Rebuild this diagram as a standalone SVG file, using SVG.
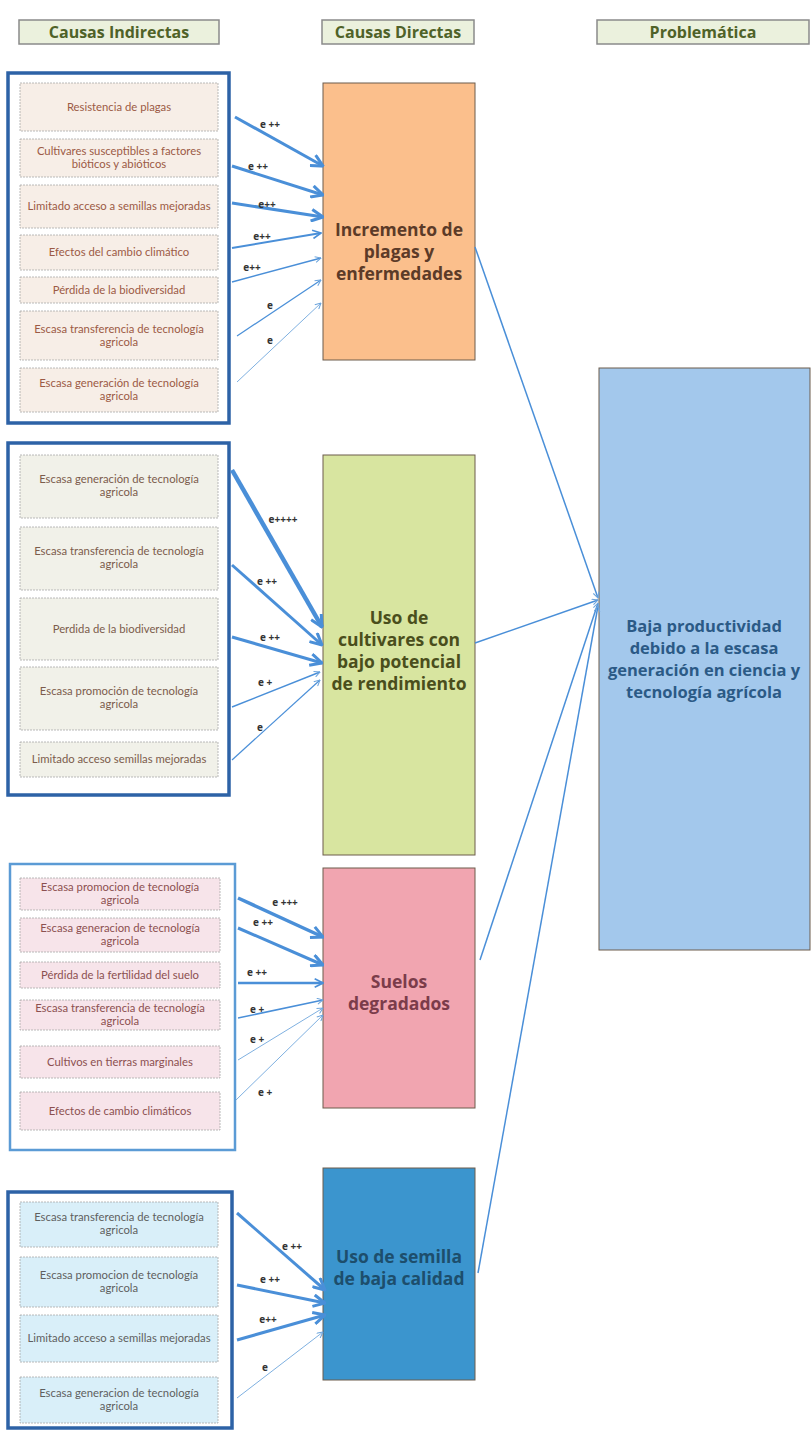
<svg xmlns="http://www.w3.org/2000/svg" width="811" height="1433" viewBox="0 0 811 1433">
<defs>
<marker id="mBig" viewBox="0 0 12 12" refX="11" refY="6" markerWidth="14" markerHeight="14" markerUnits="userSpaceOnUse" orient="auto"><path d="M1,1 L11,6 L1,11" fill="none" stroke="#4a8fd8" stroke-width="2.6"/></marker>
<marker id="mMed" viewBox="0 0 12 12" refX="11" refY="6" markerWidth="10" markerHeight="10" markerUnits="userSpaceOnUse" orient="auto"><path d="M1,1 L11,6 L1,11" fill="none" stroke="#4a8fd8" stroke-width="2"/></marker>
<marker id="mSmall" viewBox="0 0 12 12" refX="11" refY="6" markerWidth="7" markerHeight="7" markerUnits="userSpaceOnUse" orient="auto"><path d="M1,1 L11,6 L1,11" fill="none" stroke="#6ea5dc" stroke-width="1.8"/></marker>
</defs>
<style>
.hdr{fill:#ebf1dd;stroke:#8a8a8a;stroke-width:1.5}
.hdrt{font-family:"Open Sans","Liberation Sans",sans-serif;font-weight:bold;font-size:16px;fill:#4f6228;text-anchor:middle}
.outer{fill:#ffffff;stroke:#2d62a6;stroke-width:3.5}
.outer2{fill:#ffffff;stroke:#5b9bd5;stroke-width:2.5}
.ib{stroke:#a8a8a8;stroke-width:0.8;stroke-dasharray:2 1}
.g1{fill:#f7eee7}.g2{fill:#f1f1e9}.g3{fill:#f7e4ea}.g4{fill:#d9eff9}
.st{font-family:Lato,"Liberation Sans",sans-serif;font-size:11.3px;text-anchor:middle}
.t1{fill:#9c5a45}.t2{fill:#7c5c4c}.t3{fill:#8c5050}.t4{fill:#5f5f5f}
.db{stroke:#6d5c4c;stroke-width:1}
.bt{font-family:"Open Sans","Liberation Sans",sans-serif;font-weight:bold;font-size:17.5px;text-anchor:middle}
.bt2{font-family:"Open Sans","Liberation Sans",sans-serif;font-weight:bold;font-size:16.5px;text-anchor:middle;fill:#2b5a86}
.lbl{font-family:"Open Sans","Liberation Sans",sans-serif;font-weight:bold;font-size:10px;fill:#333333;text-anchor:middle}
.a{fill:none;stroke:#4a8fd8}
.al{fill:none;stroke:#7fb0e0}
</style>
<rect width="811" height="1433" fill="#ffffff"/>

<g id="headers">
<rect class="hdr" x="19" y="20" width="200" height="24"/>
<text class="hdrt" x="119" y="38">Causas Indirectas</text>
<rect class="hdr" x="322" y="20" width="152" height="24"/>
<text class="hdrt" x="398" y="38">Causas Directas</text>
<rect class="hdr" x="597" y="20" width="212" height="24"/>
<text class="hdrt" x="703" y="38">Problemática</text>
</g>

<g id="group1">
<rect class="outer" x="8" y="73" width="221" height="350"/>
<g id="g1n1"><rect class="ib g1" x="20" y="83" width="198" height="48"/><text class="st t1" x="119" y="111">Resistencia de plagas</text></g>
<g id="g1n2"><rect class="ib g1" x="20" y="139" width="198" height="38"/><text class="st t1" x="119" y="155">Cultivares susceptibles a factores</text><text class="st t1" x="119" y="168">bióticos y abióticos</text></g>
<g id="g1n3"><rect class="ib g1" x="20" y="185" width="198" height="43"/><text class="st t1" x="119" y="210">Limitado acceso a semillas mejoradas</text></g>
<g id="g1n4"><rect class="ib g1" x="20" y="235" width="198" height="35"/><text class="st t1" x="119" y="256">Efectos del cambio climático</text></g>
<g id="g1n5"><rect class="ib g1" x="20" y="277" width="198" height="26"/><text class="st t1" x="119" y="294">Pérdida de la biodiversidad</text></g>
<g id="g1n6"><rect class="ib g1" x="20" y="311" width="198" height="49"/><text class="st t1" x="119" y="333">Escasa transferencia de tecnología</text><text class="st t1" x="119" y="346">agricola</text></g>
<g id="g1n7"><rect class="ib g1" x="20" y="368" width="198" height="44"/><text class="st t1" x="119" y="387">Escasa generación de tecnología</text><text class="st t1" x="119" y="400">agricola</text></g>
</g>

<g id="group2">
<rect class="outer" x="8" y="443" width="221" height="352"/>
<g id="g2n1"><rect class="ib g2" x="20" y="455" width="198" height="63"/><text class="st t2" x="119" y="483">Escasa generación de tecnología</text><text class="st t2" x="119" y="496">agricola</text></g>
<g id="g2n2"><rect class="ib g2" x="20" y="527" width="198" height="63"/><text class="st t2" x="119" y="555">Escasa transferencia de tecnología</text><text class="st t2" x="119" y="568">agricola</text></g>
<g id="g2n3"><rect class="ib g2" x="20" y="598" width="198" height="62"/><text class="st t2" x="119" y="633">Perdida de la biodiversidad</text></g>
<g id="g2n4"><rect class="ib g2" x="20" y="667" width="198" height="63"/><text class="st t2" x="119" y="695">Escasa promoción de tecnología</text><text class="st t2" x="119" y="708">agricola</text></g>
<g id="g2n5"><rect class="ib g2" x="20" y="742" width="198" height="35"/><text class="st t2" x="119" y="763">Limitado acceso semillas mejoradas</text></g>
</g>

<g id="group3">
<rect class="outer2" x="10" y="864" width="225" height="286"/>
<g id="g3n1"><rect class="ib g3" x="20" y="878" width="200" height="32"/><text class="st t3" x="120" y="891">Escasa promocion de tecnología</text><text class="st t3" x="120" y="904">agricola</text></g>
<g id="g3n2"><rect class="ib g3" x="20" y="918" width="200" height="34"/><text class="st t3" x="120" y="932">Escasa generacion de tecnología</text><text class="st t3" x="120" y="945">agricola</text></g>
<g id="g3n3"><rect class="ib g3" x="20" y="962" width="200" height="26"/><text class="st t3" x="120" y="979">Pérdida de la fertilidad del suelo</text></g>
<g id="g3n4"><rect class="ib g3" x="20" y="1000" width="200" height="30"/><text class="st t3" x="120" y="1012">Escasa transferencia de tecnología</text><text class="st t3" x="120" y="1025">agricola</text></g>
<g id="g3n5"><rect class="ib g3" x="20" y="1046" width="200" height="32"/><text class="st t3" x="120" y="1066">Cultivos en tierras marginales</text></g>
<g id="g3n6"><rect class="ib g3" x="20" y="1092" width="200" height="38"/><text class="st t3" x="120" y="1115">Efectos de cambio climáticos</text></g>
</g>

<g id="group4">
<rect class="outer" x="8" y="1192" width="224" height="236"/>
<g id="g4n1"><rect class="ib g4" x="20" y="1202" width="198" height="45"/><text class="st t4" x="119" y="1221">Escasa transferencia de tecnología</text><text class="st t4" x="119" y="1234">agricola</text></g>
<g id="g4n2"><rect class="ib g4" x="20" y="1257" width="198" height="50"/><text class="st t4" x="119" y="1279">Escasa promocion de tecnología</text><text class="st t4" x="119" y="1292">agricola</text></g>
<g id="g4n3"><rect class="ib g4" x="20" y="1315" width="198" height="47"/><text class="st t4" x="119" y="1342">Limitado acceso a semillas mejoradas</text></g>
<g id="g4n4"><rect class="ib g4" x="20" y="1377" width="198" height="46"/><text class="st t4" x="119" y="1397">Escasa generacion de tecnología</text><text class="st t4" x="119" y="1410">agricola</text></g>
</g>

<g id="direct1"><rect class="db" x="323" y="83" width="152" height="277" fill="#fbbf8c"/>
<text class="bt" x="399" y="236" fill="#5c3b28">Incremento de</text><text class="bt" x="399" y="258" fill="#5c3b28">plagas y</text><text class="bt" x="399" y="280" fill="#5c3b28">enfermedades</text></g>
<g id="direct2"><rect class="db" x="323" y="455" width="152" height="400" fill="#d8e5a0"/>
<text class="bt" x="399" y="624" fill="#4a4e1c">Uso de</text><text class="bt" x="399" y="646" fill="#4a4e1c">cultivares con</text><text class="bt" x="399" y="668" fill="#4a4e1c">bajo potencial</text><text class="bt" x="399" y="690" fill="#4a4e1c">de rendimiento</text></g>
<g id="direct3"><rect class="db" x="323" y="868" width="152" height="240" fill="#f1a5b0"/>
<text class="bt" x="399" y="988" fill="#7b3c4a">Suelos</text><text class="bt" x="399" y="1010" fill="#7b3c4a">degradados</text></g>
<g id="direct4"><rect class="db" x="323" y="1168" width="152" height="212" fill="#3b95ce"/>
<text class="bt" x="399" y="1263" fill="#1d4e6c">Uso de semilla</text><text class="bt" x="399" y="1285" fill="#1d4e6c">de baja calidad</text></g>

<g id="problem"><rect class="db" x="599" y="368" width="211" height="582" fill="#a3c8ec"/>
<text class="bt2" x="704" y="632">Baja productividad</text><text class="bt2" x="704" y="654">debido a la escasa</text><text class="bt2" x="704" y="676">generación en ciencia y</text><text class="bt2" x="704" y="698">tecnología agrícola</text></g>

<g id="connectors">
<path class="a" stroke-width="3" marker-end="url(#mBig)" d="M235,117 L323,166"/>
<path class="a" stroke-width="3" marker-end="url(#mBig)" d="M232,166 L323,195"/>
<path class="a" stroke-width="3" marker-end="url(#mBig)" d="M232,203 L323,217"/>
<path class="a" stroke-width="2" marker-end="url(#mMed)" d="M232,248 L321,233"/>
<path class="a" stroke-width="1.5" marker-end="url(#mSmall)" d="M232,282 L321,258"/>
<path class="a" stroke-width="1.2" marker-end="url(#mSmall)" d="M237,336 L321,280"/>
<path class="al" stroke-width="1" marker-end="url(#mSmall)" d="M237,382 L321,303"/>

<path class="a" stroke-width="4.5" marker-end="url(#mBig)" d="M232,470 L322,627"/>
<path class="a" stroke-width="3" marker-end="url(#mBig)" d="M232,565 L322,645"/>
<path class="a" stroke-width="3" marker-end="url(#mBig)" d="M232,637 L322,663"/>
<path class="a" stroke-width="1.5" marker-end="url(#mSmall)" d="M232,707 L320,672"/>
<path class="a" stroke-width="1.2" marker-end="url(#mSmall)" d="M232,760 L320,680"/>

<path class="a" stroke-width="3.5" marker-end="url(#mBig)" d="M238,898 L323,937"/>
<path class="a" stroke-width="3" marker-end="url(#mBig)" d="M238,928 L323,965"/>
<path class="a" stroke-width="2.5" marker-end="url(#mMed)" d="M238,983 L323,983"/>
<path class="a" stroke-width="1.5" marker-end="url(#mSmall)" d="M238,1018 L323,1000"/>
<path class="al" stroke-width="1" marker-end="url(#mSmall)" d="M238,1060 L323,1008"/>
<path class="al" stroke-width="1" marker-end="url(#mSmall)" d="M236,1100 L323,1015"/>

<path class="a" stroke-width="3" marker-end="url(#mBig)" d="M237,1213 L325,1290"/>
<path class="a" stroke-width="3" marker-end="url(#mBig)" d="M237,1285 L325,1303"/>
<path class="a" stroke-width="3" marker-end="url(#mBig)" d="M237,1340 L325,1315"/>
<path class="al" stroke-width="1" marker-end="url(#mSmall)" d="M237,1398 L323,1332"/>

<path class="a" stroke-width="1.5" marker-end="url(#mSmall)" d="M475,247 L598,598"/>
<path class="a" stroke-width="1.5" marker-end="url(#mSmall)" d="M475,643 L598,600"/>
<path class="a" stroke-width="1.5" marker-end="url(#mSmall)" d="M480,960 L598,603"/>
<path class="a" stroke-width="1.5" marker-end="url(#mSmall)" d="M478,1273 L598,606"/>

<text class="lbl" x="270" y="128">e ++</text>
<text class="lbl" x="258" y="170">e ++</text>
<text class="lbl" x="267" y="208">e++</text>
<text class="lbl" x="262" y="240">e++</text>
<text class="lbl" x="252" y="271">e++</text>
<text class="lbl" x="270" y="309">e</text>
<text class="lbl" x="270" y="344">e</text>

<text class="lbl" x="283" y="523">e++++</text>
<text class="lbl" x="267" y="585">e ++</text>
<text class="lbl" x="270" y="641">e ++</text>
<text class="lbl" x="265" y="686">e +</text>
<text class="lbl" x="260" y="731">e</text>

<text class="lbl" x="285" y="906">e +++</text>
<text class="lbl" x="263" y="926">e ++</text>
<text class="lbl" x="257" y="976">e ++</text>
<text class="lbl" x="257" y="1013">e +</text>
<text class="lbl" x="257" y="1043">e +</text>
<text class="lbl" x="265" y="1096">e +</text>

<text class="lbl" x="292" y="1250">e ++</text>
<text class="lbl" x="270" y="1283">e ++</text>
<text class="lbl" x="268" y="1323">e++</text>
<text class="lbl" x="265" y="1371">e</text>
</g>
</svg>
